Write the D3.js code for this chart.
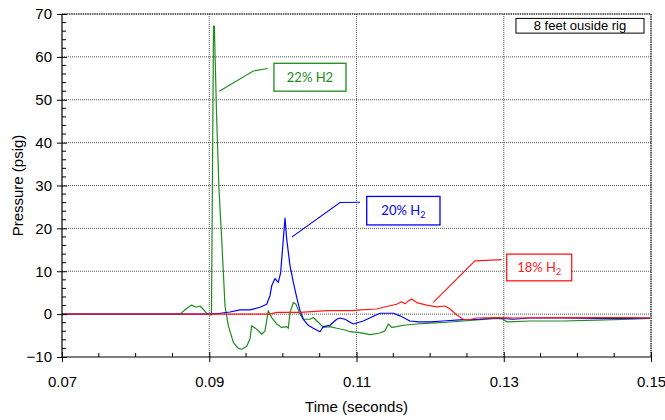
<!DOCTYPE html>
<html>
<head>
<meta charset="utf-8">
<script src="https://cdn.jsdelivr.net/npm/d3@7"></script>
<style>
html,body{margin:0;padding:0;background:#fff;}
svg{display:block;}
</style>
</head>
<body>
<svg id="chart" width="665" height="420"></svg>
<script>
// ---- data ----
const xTicks = [0.07, 0.09, 0.11, 0.13, 0.15];
const yTicks = [-10, 0, 10, 20, 30, 40, 50, 60, 70];

const green22 = [
[0.07,0],[0.08603,0],[0.08684,1.2],[0.08762,2.1],[0.0882,1.6],[0.08874,1.9],[0.08915,1.2],[0.08965,0.2],
[0.0901,-0.2],[0.0903,-0.2],[0.09058,67.2],[0.09069,67.2],[0.09101,45.5],[0.09132,29.2],[0.09169,17.5],
[0.09214,1.9],[0.09259,-2.7],[0.09327,-6.6],[0.09395,-8.0],[0.09441,-8.2],[0.09509,-7.5],[0.09553,-5.8],
[0.09577,-2.7],[0.09644,-3.5],[0.09712,-4.7],[0.09757,-3.9],[0.09802,0.8],[0.09848,-0.8],[0.09916,-2.3],
[0.09984,-3.1],[0.10052,-2.9],[0.10074,-3.3],[0.10097,0.4],[0.10142,2.7],[0.10178,2.3],[0.10233,0],
[0.10278,-1.2],[0.10368,-1.2],[0.10413,-0.8],[0.10481,-1.9],[0.10549,-3.1],[0.1064,-2.9],[0.10731,-3.3],
[0.10844,-3.7],[0.10912,-4.1],[0.11048,-4.3],[0.11183,-4.8],[0.11319,-4.4],[0.11387,-3.9],[0.11432,-2.3],
[0.11478,-3.1],[0.11546,-2.9],[0.11636,-2.6],[0.11818,-2.3],[0.11998,-2.1],[0.12225,-1.9],[0.12451,-1.6],
[0.12677,-1.3],[0.12904,-1.0],[0.12994,-1.2],[0.1304,-1.8],[0.13356,-1.6],[0.13809,-1.6],[0.14262,-1.4],
[0.14715,-1.2],[0.14986,-1.0]
];

const blue20 = [
[0.07,0],[0.08874,0],[0.0901,0],[0.09146,0.2],[0.09282,0.5],[0.09418,1.0],[0.09553,1.0],[0.09689,1.6],
[0.0978,2.3],[0.09825,4.3],[0.09848,6.6],[0.09893,8.3],[0.09938,7.4],[0.0997,9.7],[0.10006,17.5],
[0.10029,22.4],[0.10052,17.5],[0.10097,11.3],[0.10142,7.4],[0.10188,3.9],[0.10233,0.8],[0.10278,-1.2],
[0.10345,-2.6],[0.10413,-3.3],[0.10504,-4.1],[0.10549,-2.9],[0.1064,-2.6],[0.10731,-1.2],[0.10776,-0.9],
[0.10844,-1.2],[0.10956,-2.3],[0.11092,-1.6],[0.11319,0.2],[0.115,0.2],[0.11591,-0.4],[0.11727,-1.6],
[0.11839,-1.8],[0.11998,-1.8],[0.12179,-1.6],[0.12451,-1.3],[0.12677,-1.2],[0.12904,-0.9],[0.1313,-1.2],
[0.13356,-0.9],[0.13809,-0.9],[0.14262,-1.0],[0.14715,-1.0],[0.14986,-0.9]
];

const red18 = [
[0.07,0],[0.09825,0],[0.09916,0.4],[0.10233,0.4],[0.10595,0.8],[0.10956,0.8],[0.11048,1.0],[0.11274,1.2],
[0.11364,1.6],[0.11546,2.3],[0.11614,2.9],[0.11659,2.4],[0.11704,3.1],[0.1175,3.5],[0.11818,2.7],
[0.11953,2.1],[0.12089,1.7],[0.12202,1.9],[0.1227,1.2],[0.12361,-0.2],[0.12451,-1.2],[0.12541,-1.3],
[0.12632,-0.9],[0.12904,-0.8],[0.1313,-0.9],[0.13809,-0.8],[0.14715,-0.8],[0.14986,-0.9]
];

const seriesLabels = ["22% H", "20% H", "18% H"];

// ---- layout ----
const svg = d3.select("#chart");
const M = {left: 62, right: 651, top: 14, bottom: 357};
const x = d3.scaleLinear().domain([0.07, 0.15]).range([M.left, M.right]);
const y = d3.scaleLinear().domain([-10, 70]).range([M.bottom, M.top]);

const axisFont = "'Liberation Sans Narrow','Arial Narrow','Liberation Sans',Arial,sans-serif";
const noteFont = "Lato,'Open Sans',sans-serif";

// gridlines
const grid = svg.append("g");
grid.selectAll("line.h").data(yTicks.filter(v => v > -10 && v < 70)).enter().append("line")
  .attr("x1", M.left).attr("x2", M.right)
  .attr("y1", d => y(d)).attr("y2", d => y(d))
  .attr("stroke", "#555").attr("stroke-width", 1).attr("stroke-dasharray", "1,1");
grid.selectAll("line.v").data(xTicks.filter(v => v > 0.07 && v < 0.15)).enter().append("line")
  .attr("y1", M.top).attr("y2", M.bottom)
  .attr("x1", d => x(d)).attr("x2", d => x(d))
  .attr("stroke", "#555").attr("stroke-width", 1).attr("stroke-dasharray", "1,1");
// top & right frame
svg.append("line").attr("x1", M.left).attr("x2", M.right).attr("y1", M.top).attr("y2", M.top)
  .attr("stroke", "#333").attr("stroke-width", 1.6).attr("stroke-dasharray", "1.5,0.8");
svg.append("line").attr("x1", M.right).attr("x2", M.right).attr("y1", M.top).attr("y2", M.bottom)
  .attr("stroke", "#333").attr("stroke-width", 1.6).attr("stroke-dasharray", "1.5,0.8");

// lines
const line = d3.line().x(d => x(d[0])).y(d => y(d[1]));
const series = [
  {data: green22, color: "#1e8c1e"},
  {data: blue20, color: "#0000ff"},
  {data: red18, color: "#ff1a1a"}
];
svg.append("g").selectAll("path").data(series).enter().append("path")
  .attr("d", d => line(d.data))
  .attr("fill", "none").attr("stroke", d => d.color).attr("stroke-width", 1.2)
  .attr("stroke-linejoin", "round");

// axes
const yAxis = d3.axisLeft(y).tickValues(yTicks).tickSize(5).tickPadding(5).tickFormat(d3.format("d"));
const gy = svg.append("g").attr("transform", `translate(${M.left},0)`).call(yAxis);
const xAxis = d3.axisBottom(x).tickValues(xTicks).tickSize(5).tickPadding(14).tickFormat(d3.format(".2f"));
const gx = svg.append("g").attr("transform", `translate(0,${M.bottom})`).call(xAxis);
[gx, gy].forEach(g => {
  g.select(".domain").attr("stroke", "#000").attr("stroke-width", 1.2);
  g.selectAll(".tick line").attr("stroke", "#000");
  g.selectAll(".tick text").attr("font-family", axisFont).attr("font-size", 15).attr("fill", "#000");
});
gx.select(".domain").attr("d", `M${M.left},0H${M.right}`);
gy.select(".domain").attr("d", `M0,${M.bottom}V${M.top}`);
// major ticks crossing inward
gy.selectAll(".tick line").attr("x1", 5);
gx.selectAll(".tick line").attr("y1", -5);

// minor ticks
const yMinor = d3.range(-10, 70.01, 2).filter(v => v % 10 !== 0);
svg.append("g").selectAll("line").data(yMinor).enter().append("line")
  .attr("x1", M.left).attr("x2", M.left + 4).attr("y1", d => y(d)).attr("y2", d => y(d))
  .attr("stroke", "#000");
const xMinor = d3.range(0, 17).map(i => 0.07 + i * 0.005).filter((v, i) => i % 4 !== 0);
svg.append("g").selectAll("line").data(xMinor).enter().append("line")
  .attr("y1", M.bottom).attr("y2", M.bottom - 4).attr("x1", d => x(d)).attr("x2", d => x(d))
  .attr("stroke", "#000");

// axis titles
svg.append("text").attr("x", (M.left + M.right) / 2).attr("y", 412)
  .attr("text-anchor", "middle").attr("font-family", axisFont).attr("font-size", 15)
  .text("Time (seconds)");
svg.append("text").attr("transform", `translate(23,${(M.top + M.bottom) / 2}) rotate(-90)`)
  .attr("text-anchor", "middle").attr("font-family", axisFont).attr("font-size", 15)
  .text("Pressure (psig)");

// annotations (data coordinates)
const notes = [
  {label: seriesLabels[0], sub: false, color: "#1e8c1e", box: [0.09879, 58.5, 0.10857, 52.0],
   leader: [[0.09136, 52.0], [0.09598, 56.7], [0.09794, 57.3]]},
  {label: seriesLabels[1], sub: true, color: "#0000ff", box: [0.11139, 27.45, 0.12134, 20.8],
   leader: [[0.1012, 17.96], [0.10776, 26.05], [0.11048, 26.1]]},
  {label: seriesLabels[2], sub: true, color: "#ff1a1a", box: [0.1304, 14.0, 0.13923, 7.77],
   leader: [[0.12043, 2.73], [0.12609, 12.43], [0.12972, 12.7]]}
];
notes.forEach(n => {
  svg.append("path").attr("d", line(n.leader)).attr("fill", "none")
    .attr("stroke", n.color).attr("stroke-width", 1.1);
  const x0 = x(n.box[0]), x1 = x(n.box[2]), y0 = y(n.box[1]), y1 = y(n.box[3]);
  svg.append("rect").attr("x", x0).attr("y", y0).attr("width", x1 - x0).attr("height", y1 - y0)
    .attr("fill", "#fff").attr("stroke", n.color).attr("stroke-width", 1.3);
  const t = svg.append("text").attr("x", (x0 + x1) / 2).attr("y", (y0 + y1) / 2 + 4.5)
    .attr("text-anchor", "middle").attr("font-family", noteFont).attr("font-size", 13)
    .attr("fill", n.color);
  t.append("tspan").text(n.label);
  if (n.sub) {
    t.append("tspan").attr("font-size", 9).attr("dy", 3).text("2");
  } else {
    t.append("tspan").text("2");
  }
});

// site label box
const sb = [0.13166, 68.97, 0.14905, 65.54];
svg.append("rect").attr("x", x(sb[0])).attr("y", y(sb[1]))
  .attr("width", x(sb[2]) - x(sb[0])).attr("height", y(sb[3]) - y(sb[1]))
  .attr("fill", "#fff").attr("stroke", "#000").attr("stroke-width", 1);
svg.append("text").attr("x", (x(sb[0]) + x(sb[2])) / 2).attr("y", (y(sb[1]) + y(sb[3])) / 2 + 4.5)
  .attr("text-anchor", "middle").attr("font-family", "'Liberation Sans',Arial,sans-serif").attr("font-size", 13)
  .text("8 feet ouside rig");
</script>
</body>
</html>
